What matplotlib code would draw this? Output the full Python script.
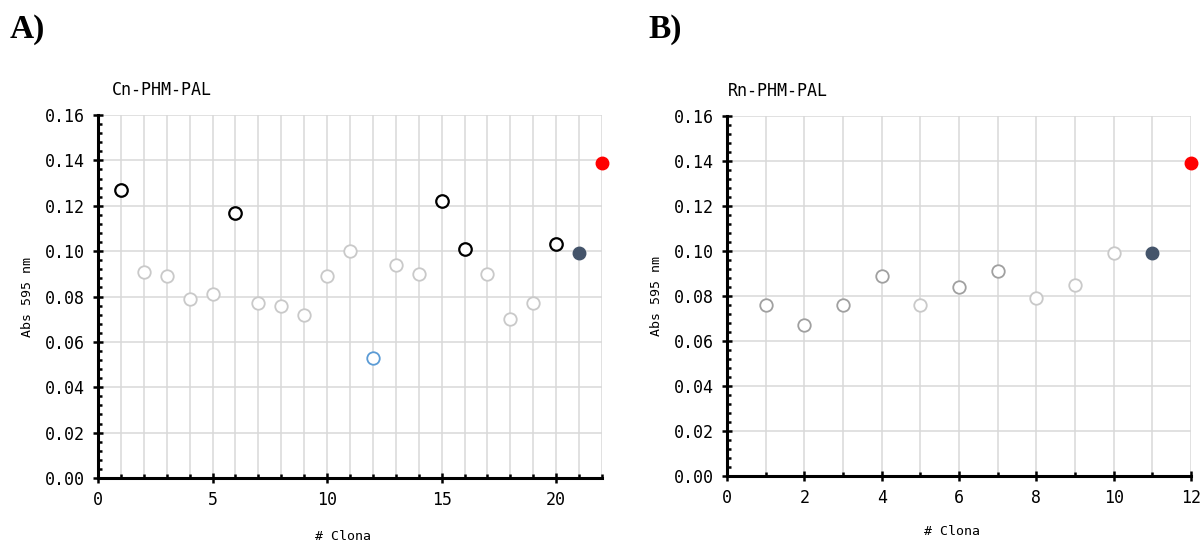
import matplotlib
matplotlib.use("Agg")
import matplotlib.pyplot as plt
from matplotlib.ticker import MultipleLocator, FormatStrFormatter

# Cn-PHM-PAL clones
clones_a = list(range(1, 23))
abs_a = [0.127, 0.091, 0.089, 0.079, 0.081, 0.117, 0.077, 0.076, 0.072, 0.089,
         0.100, 0.053, 0.094, 0.090, 0.122, 0.101, 0.090, 0.070, 0.077, 0.103,
         0.099, 0.139]
group_a = ["hi", "lo", "lo", "lo", "lo", "hi", "lo", "lo", "lo", "lo",
           "lo", "blue", "lo", "lo", "hi", "hi", "lo", "lo", "lo", "hi",
           "ctrl", "pos"]

# Rn-PHM-PAL clones
clones_b = list(range(1, 13))
abs_b = [0.076, 0.067, 0.076, 0.089, 0.076, 0.084, 0.091, 0.079, 0.085, 0.099,
         0.099, 0.139]
group_b = ["mid", "mid", "mid", "mid", "lo", "mid", "mid", "lo", "lo", "lo",
           "ctrl", "pos"]

styles = {
    "hi":   dict(mfc="white", mec="black", mew=1.6),
    "lo":   dict(mfc="white", mec="#c9c9c9", mew=1.3),
    "mid":  dict(mfc="white", mec="#a0a0a0", mew=1.3),
    "blue": dict(mfc="white", mec="#5b9bd5", mew=1.3),
    "ctrl": dict(mfc="#44546a", mec="#44546a", mew=1.0),
    "pos":  dict(mfc="#ff0000", mec="#ff0000", mew=1.0),
}

mono = "DejaVu Sans Mono"
fig = plt.figure(figsize=(12, 5.44), dpi=100)


def panel(rect, xs, ys, groups, xmax, xmajor, title, title_x, letter, letter_x,
          xlabel_y):
    ax = fig.add_axes(rect)
    for x, y, g in zip(xs, ys, groups):
        ax.plot([x], [y], "o", ms=9, clip_on=False, zorder=5, **styles[g])
    ax.set_xlim(0, xmax)
    ax.set_ylim(0, 0.16)
    ax.xaxis.set_major_locator(MultipleLocator(xmajor))
    ax.xaxis.set_minor_locator(MultipleLocator(1))
    ax.yaxis.set_major_locator(MultipleLocator(0.02))
    ax.yaxis.set_minor_locator(MultipleLocator(0.004))
    ax.yaxis.set_major_formatter(FormatStrFormatter("%.2f"))
    ax.grid(True, which="major", axis="y", color="#d9d9d9", lw=1.1)
    ax.grid(True, which="both", axis="x", color="#d9d9d9", lw=1.1)
    ax.set_axisbelow(True)
    for s in ("top", "right"):
        ax.spines[s].set_visible(False)
    for s in ("left", "bottom"):
        ax.spines[s].set_linewidth(2.2)
    ax.tick_params(which="major", direction="inout", length=7, width=1.8,
                   labelsize=12, pad=6)
    ax.tick_params(which="minor", direction="in", length=3, width=1.8)
    for lab in ax.get_xticklabels() + ax.get_yticklabels():
        lab.set_fontfamily(mono)
    ax.set_ylabel("Abs 595 nm", fontfamily=mono, fontsize=9.5, labelpad=8)
    ax.text(0.486, xlabel_y, "# Clona", transform=ax.transAxes, ha="center",
            va="center", fontfamily=mono, fontsize=9.5)
    ax.text(title_x, 1.07, title, transform=ax.transAxes, ha="left",
            va="center", fontfamily=mono, fontsize=12)
    fig.text(letter_x, 0.945, letter, ha="left", va="center",
             fontfamily="Liberation Serif", fontweight="bold", fontsize=24)
    return ax


panel([0.0817, 0.1213, 0.42, 0.6673], clones_a, abs_a, group_a, 22, 5,
      "Cn-PHM-PAL", 0.028, "A)", 0.008, -0.16)
panel([0.6058, 0.125, 0.3867, 0.6618], clones_b, abs_b, group_b, 12, 2,
      "Rn-PHM-PAL", 0.003, "B)", 0.5405, -0.155)

fig.savefig("out.png", dpi=100)
